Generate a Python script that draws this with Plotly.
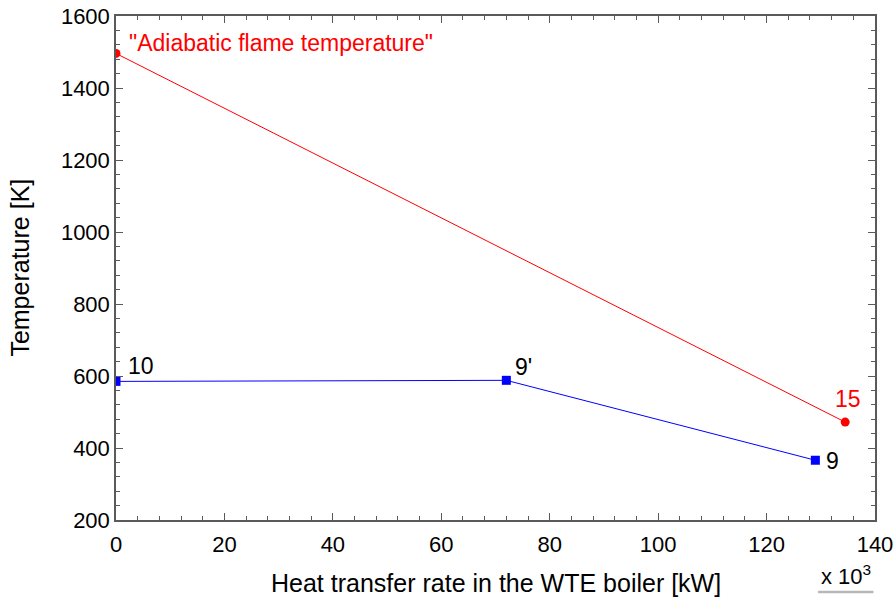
import plotly.graph_objects as go

# Heat transfer rate (x 10^3 kW) and temperatures (K)
flue_q = [0.0, 134.5]
flue_T = [1496, 472]
flue_labels = ['"Adiabatic flame temperature"', "15"]

steam_q = [0.0, 72.0, 129.0]
steam_T = [585, 588, 366]
steam_labels = ["10", "9'", "9"]

x_ticks = [0, 20, 40, 60, 80, 100, 120, 140]
y_ticks = [200, 400, 600, 800, 1000, 1200, 1400, 1600]

FONT = "Liberation Sans, Arial, sans-serif"
AX = "#5a5a5a"
TICK_SIZE = 22
TITLE_SIZE = 25
LABEL_SIZE = 23

fig = go.Figure()

fig.add_trace(go.Scatter(
    x=flue_q, y=flue_T, mode="lines+markers",
    line=dict(color="#ff0000", width=1),
    marker=dict(symbol="circle", size=9, color="#ff0000"),
    showlegend=False, hoverinfo="skip",
))
fig.add_trace(go.Scatter(
    x=steam_q, y=steam_T, mode="lines+markers",
    line=dict(color="#0000ff", width=1),
    marker=dict(symbol="square", size=9, color="#0000ff"),
    showlegend=False, hoverinfo="skip",
))

# point labels: (x, y, text, colour, xanchor, xshift, yshift)
point_labels = [
    (flue_q[0], flue_T[0], flue_labels[0], "#ff0000", "left", 11, 10),
    (flue_q[1], flue_T[1], flue_labels[1], "#ff0000", "center", 3, 23),
    (steam_q[0], steam_T[0], steam_labels[0], "black", "left", 10, 15),
    (steam_q[1], steam_T[1], steam_labels[1], "black", "left", 7, 13),
    (steam_q[2], steam_T[2], steam_labels[2], "black", "left", 9, -1),
]
for x, y, txt, col, xa, xs, ys in point_labels:
    fig.add_annotation(x=x, y=y, text=txt, showarrow=False,
                       xanchor=xa, yanchor="middle", xshift=xs, yshift=ys,
                       font=dict(color=col, size=LABEL_SIZE, family=FONT))

# axis titles
fig.add_annotation(xref="paper", yref="paper", x=0.5, y=-0.125,
                   text="Heat transfer rate in the WTE boiler [kW]", showarrow=False,
                   xanchor="center", yanchor="middle",
                   font=dict(color="black", size=TITLE_SIZE, family=FONT))
fig.add_annotation(xref="paper", yref="paper", x=-0.127, y=0.5,
                   text="Temperature [K]", showarrow=False, textangle=-90,
                   xanchor="center", yanchor="middle",
                   font=dict(color="black", size=TITLE_SIZE, family=FONT))

# axis multiplier
fig.add_annotation(xref="paper", yref="paper", x=0.998, y=-0.078,
                   text="x 10<sup>3</sup>", showarrow=False,
                   xanchor="right", yanchor="top",
                   font=dict(color="black", size=TICK_SIZE, family=FONT))
fig.add_shape(type="line", xref="paper", yref="paper",
              x0=0.925, x1=0.998, y0=-0.143, y1=-0.143,
              line=dict(color="#b8b8b8", width=2.5))

axis_common = dict(
    showline=True, linecolor=AX, linewidth=1.5, mirror="ticks",
    ticks="inside", ticklen=7, tickcolor=AX, tickwidth=1.2,
    showgrid=False, zeroline=False, automargin=False,
    tickfont=dict(size=TICK_SIZE, family=FONT, color="black"),
)

fig.update_xaxes(
    range=[0, 140], tickvals=x_ticks, ticklabelstandoff=4,
    minor=dict(ticks="inside", ticklen=4, tickcolor=AX, dtick=4, showgrid=False),
    **axis_common,
)
fig.update_yaxes(
    range=[200, 1600], tickvals=y_ticks,
    minor=dict(ticks="inside", ticklen=4, tickcolor=AX, dtick=40, showgrid=False),
    **axis_common,
)

fig.update_layout(
    width=896, height=598,
    margin=dict(l=116, r=21, t=16, b=78),
    paper_bgcolor="white", plot_bgcolor="white",
    font=dict(family=FONT),
)

fig.write_html("out.html")
